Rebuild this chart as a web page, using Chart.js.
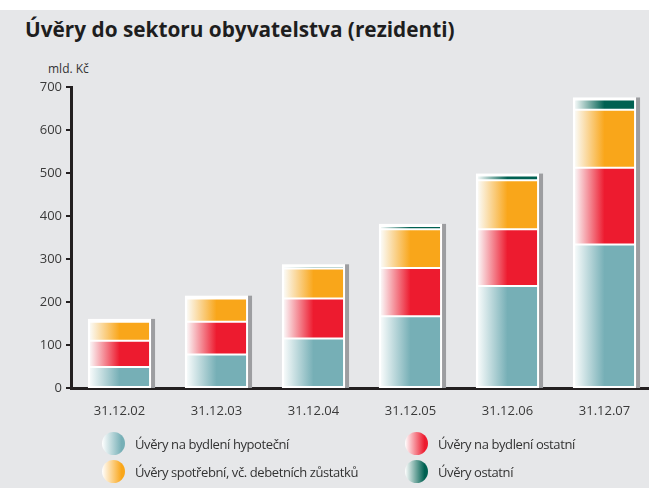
<!DOCTYPE html>
<html lang="cs">
<head>
<meta charset="utf-8">
<script src="https://cdn.jsdelivr.net/npm/chart.js@4.4.1/dist/chart.umd.min.js"></script>
<style>
  html, body { margin: 0; padding: 0; background: #ffffff; overflow: hidden; }
  body { width: 649px; height: 488px; position: relative; font-family: "Open Sans", sans-serif; }
  #panel { position: absolute; left: 0; top: 10px; width: 649px; height: 478px; background: #e6e7e9; }
  #title { position: absolute; left: 25px; top: 13px; font-size: 22px; font-weight: 700; color: #1e1e1e; white-space: nowrap; transform: scaleX(0.945); transform-origin: left center; }
  #unit { position: absolute; left: 48px; top: 60px; font-size: 12px; color: #333333; }
  #chart-wrap { position: absolute; left: 0; top: 0; width: 653px; height: 488px; }
  .legend-item { position: absolute; display: flex; align-items: center; font-size: 13px; letter-spacing: -0.4px; color: #333333; white-space: nowrap; }
  .legend-dot { width: 23px; height: 23px; border-radius: 50%; margin-right: 10px; }
</style>
</head>
<body>
<div id="panel"></div>
<div id="title">Úvěry do sektoru obyvatelstva (rezidenti)</div>
<div id="unit">mld. Kč</div>
<div id="chart-wrap"><canvas id="chart" width="653" height="488"></canvas></div>
<div id="legend"></div>
<script>
const categories = ['31.12.02', '31.12.03', '31.12.04', '31.12.05', '31.12.06', '31.12.07'];
const seriesNames = [
  'Úvěry na bydlení hypoteční',
  'Úvěry na bydlení ostatní',
  'Úvěry spotřební, vč. debetních zůstatků',
  'Úvěry ostatní'
];
const hypotecni = [49, 78, 115, 167, 237, 334];
const bydleniOstatni = [61, 76, 93, 112, 132, 178];
const spotrebni = [44, 54, 70, 90, 114, 135];
const ostatni = [2, 2, 5, 8, 11, 24];
const yMax = 700;
const yStep = 100;

const colors = ['#76afb6', '#ed1b2f', '#f9a61a', '#006152'];
const barShare = 0.63;

// horizontal white-to-colour fade on every segment
function barGradient(color) {
  return (ctx) => {
    const chart = ctx.chart;
    const x = chart.scales.x;
    if (!x || ctx.dataIndex === undefined) return color;
    const center = x.getPixelForValue(ctx.dataIndex);
    const half = (x.width / categories.length) * barShare / 2;
    if (!isFinite(center) || !isFinite(half)) return color;
    const g = chart.ctx.createLinearGradient(center - half, 0, center + half, 0);
    g.addColorStop(0, '#fbfdfd');
    g.addColorStop(0.5, color);
    g.addColorStop(1, color);
    return g;
  };
}

// white frame and grey shadow behind each stack
const barFrame = {
  id: 'barFrame',
  beforeDatasetsDraw(chart) {
    const ctx = chart.ctx;
    const base = chart.scales.y.getPixelForValue(0);
    const topMeta = chart.getDatasetMeta(chart.data.datasets.length - 1);
    ctx.save();
    topMeta.data.forEach((bar) => {
      const { x, y, width } = bar.getProps(['x', 'y', 'width'], true);
      const left = x - width / 2;
      ctx.fillStyle = '#ffffff';
      ctx.fillRect(left - 1, y - 2, width + 2, base - y + 2);
      ctx.fillStyle = '#9d9ea1';
      ctx.fillRect(left + width + 1, y - 2, 4, base - y + 2);
    });
    ctx.restore();
  }
};

const values = [hypotecni, bydleniOstatni, spotrebni, ostatni];

new Chart(document.getElementById('chart'), {
  type: 'bar',
  data: {
    labels: categories,
    datasets: values.map((v, i) => ({
      label: seriesNames[i],
      data: v,
      backgroundColor: barGradient(colors[i]),
      borderColor: '#ffffff',
      borderWidth: 1,
      borderSkipped: false,
      categoryPercentage: 1,
      barPercentage: barShare
    }))
  },
  options: {
    responsive: false,
    animation: false,
    layout: { padding: { top: 87, left: 0, right: 0, bottom: 0 } },
    scales: {
      x: {
        stacked: true,
        grid: { display: false, drawTicks: false },
        border: { display: true, color: '#231f20', width: 3 },
        ticks: { color: '#3a3a3a', padding: 15, font: { family: 'Open Sans', size: 13 } },
        afterFit: (s) => { s.height = 100; }
      },
      y: {
        stacked: true,
        min: 0,
        max: yMax,
        grid: { display: true, drawOnChartArea: false, color: '#231f20', lineWidth: 2, tickLength: 5 },
        border: { display: true, color: '#231f20', width: 3 },
        ticks: { stepSize: yStep, color: '#3a3a3a', padding: 4, font: { family: 'Open Sans', size: 13 } },
        afterFit: (s) => { s.width = 71; }
      }
    },
    plugins: {
      legend: { display: false },
      tooltip: { enabled: false }
    }
  },
  plugins: [barFrame]
});

// two-column legend below the chart
const legendPos = [
  { left: 102, top: 432 },
  { left: 405, top: 432 },
  { left: 102, top: 460 },
  { left: 405, top: 460 }
];
const legend = document.getElementById('legend');
seriesNames.forEach((name, i) => {
  const item = document.createElement('div');
  item.className = 'legend-item';
  item.style.left = legendPos[i].left + 'px';
  item.style.top = legendPos[i].top + 'px';
  const dot = document.createElement('span');
  dot.className = 'legend-dot';
  dot.style.background = `linear-gradient(to right, #ffffff, ${colors[i]} 85%)`;
  const text = document.createElement('span');
  text.textContent = name;
  item.appendChild(dot);
  item.appendChild(text);
  legend.appendChild(item);
});
</script>
</body>
</html>
